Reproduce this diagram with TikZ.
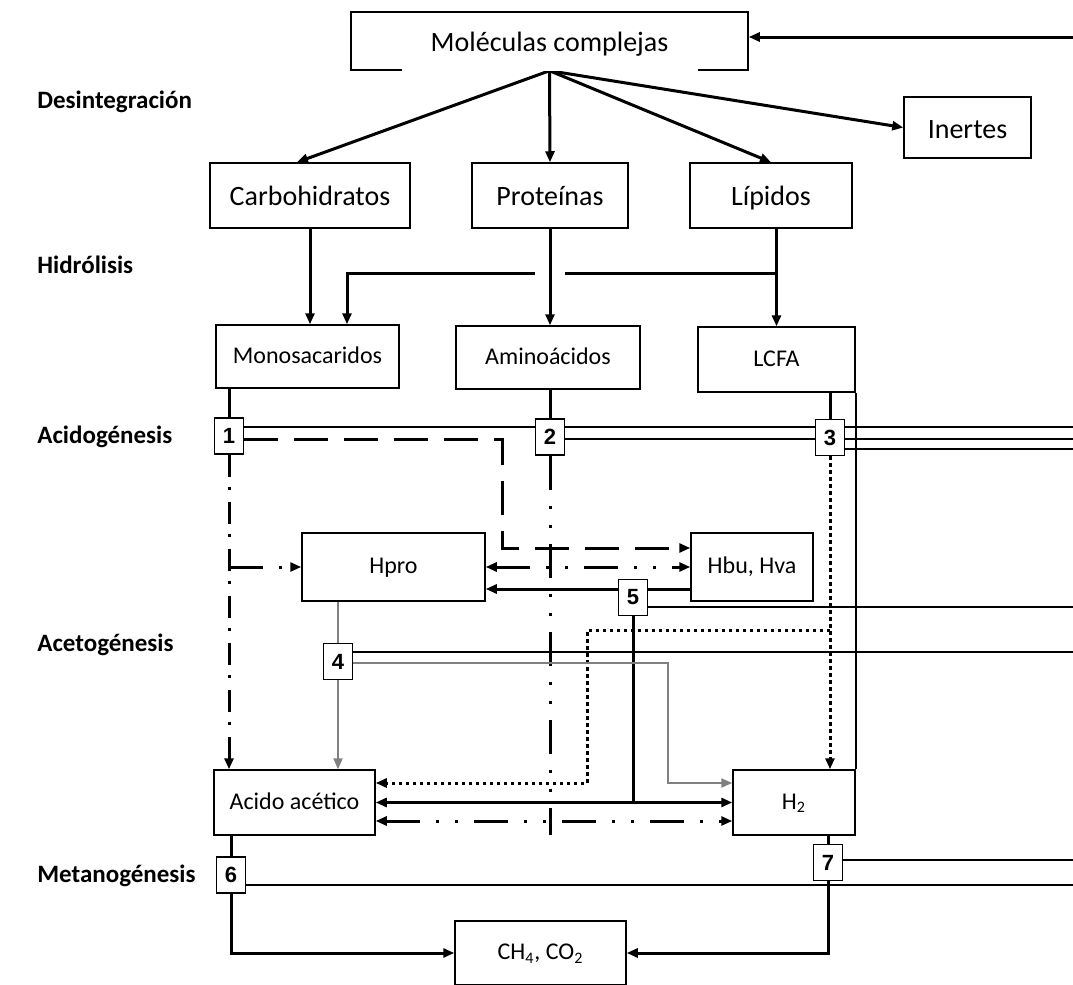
\documentclass[tikz,border=0pt]{standalone}
\usepackage{fontspec}
\setmainfont{Carlito}
\newfontfamily\numfont{Liberation Sans}
\usetikzlibrary{arrows.meta,calc,backgrounds}
\pgfdeclarelayer{paper}
\pgfsetlayers{paper,background,main}
\tikzset{
  box/.style={draw, line width=0.75pt, fill=white, inner sep=0pt, align=center},
  bigtxt/.style={font=\fontsize{14}{16}\selectfont, text height=1.15em, text depth=0.1em},
  smalltxt/.style={font=\fontsize{12}{14}\selectfont, text height=0.75em, text depth=0.1em},
  numbox/.style={draw, line width=0.75pt, fill=white, minimum width=14.5pt, minimum height=18pt, inner sep=0pt, font=\numfont\bfseries\fontsize{11}{11}\selectfont},
  stage/.style={anchor=west, inner sep=0pt, font=\bfseries\fontsize{12.5}{14}\selectfont},
  thickln/.style={line width=1.5pt},
  thinln/.style={line width=0.9pt},
  arr/.style={-{Triangle[length=5.5pt,width=4.5pt]}},
  darr/.style={{Triangle[length=5.5pt,width=4.5pt]}-{Triangle[length=5.5pt,width=4.5pt]}},
  longdash/.style={line width=1.5pt, dash pattern=on 17pt off 8pt},
  dashdotA/.style={line width=1.5pt, dash pattern=on 11pt off 5pt on 1.5pt off 6pt},
  dashdotdot/.style={line width=1.5pt, dash pattern=on 17pt off 8pt on 1.5pt off 8pt on 1.5pt off 8pt},
  dottedln/.style={line width=1.5pt, dash pattern=on 1.75pt off 1.75pt},
  grayln/.style={line width=1pt, draw=gray},
}
\begin{document}
\begin{tikzpicture}[x=0.5pt,y=-0.5pt]
\begin{pgfonlayer}{paper}
\fill[white] (0,0) rectangle (1073,985);
\end{pgfonlayer}
\useasboundingbox (0,0) rectangle (1073,985);

% stage labels
\node[stage] (s1) at (37,102) {Desintegración};
\node[stage] (s2) at (37,265) {Hidrólisis};
\node[stage] (s3) at (37,437) {Acidogénesis};
\node[stage] (s4) at (37,645) {Acetogénesis};
\node[stage] (s5) at (37,876) {Metanogénesis};

% boxes
\node[box,bigtxt,minimum width=198.5pt,minimum height=29pt] (mol) at (549.5,41) {Moléculas complejas};
\node[box,bigtxt,minimum width=63.5pt,minimum height=30.5pt] (inertes) at (967.5,127.5) {Inertes};
\node[box,bigtxt,minimum width=100pt,minimum height=32.5pt] (carb) at (310,195.5) {Carbohidratos};
\node[box,bigtxt,minimum width=78pt,minimum height=32.5pt] (prot) at (550,195.5) {Proteínas};
\node[box,bigtxt,minimum width=81pt,minimum height=32.5pt] (lip) at (771,195.5) {Lípidos};
\node[box,smalltxt,minimum width=91.5pt,minimum height=31.5pt] (mono) at (307.5,356.5) {Monosacaridos};
\node[box,smalltxt,minimum width=92pt,minimum height=31.5pt] (amino) at (548,357.5) {Aminoácidos};
\node[box,smalltxt,minimum width=78.5pt,minimum height=32.5pt] (lcfa) at (776.5,359.5) {LCFA};
\node[box,smalltxt,minimum width=91.5pt,minimum height=34pt] (hpro) at (393.5,567) {Hpro};
\node[box,smalltxt,minimum width=61pt,minimum height=34pt] (hbu) at (752,567) {Hbu, Hva};
\node[box,smalltxt,minimum width=80.5pt,minimum height=32.5pt] (acido) at (294.5,802.5) {Acido acético};
\node[box,smalltxt,minimum width=61pt,minimum height=32.5pt] (h2) at (794,802.5) {H\textsubscript{2}};
\node[box,smalltxt,minimum width=85.5pt,minimum height=32pt] (ch4) at (540.5,953) {CH\textsubscript{4}, CO\textsubscript{2}};

% number boxes
\node[numbox] (n1) at (229,436) {1};
\node[numbox] (n2) at (550,437) {2};
\node[numbox] (n3) at (830,437.5) {3};
\node[numbox] (n5) at (633,597.5) {5};
\node[numbox] (n4) at (338,661.5) {4};
\node[numbox] (n6) at (231,875) {6};
\node[numbox] (n7) at (828,862.5) {7};

% gap in bottom edge of the top box
\draw[white,line width=1.2pt] (402,70) -- (698,70);

\begin{scope}[on background layer]
% disintegration
\coordinate (rin) at (1073,37);
\draw[thickln,arr] (rin) -- (rin -| mol.east);
\draw[thickln,arr] (mol.south) -- ($(carb.north)+(-13,0)$);
\draw[thickln,arr] (mol.south) -- (prot.north);
\draw[thickln,arr] (mol.south) -- (lip.north);
\draw[thickln,arr] (mol.south) -- (inertes.west);
% hydrolysis
\draw[thickln,arr] (carb.south) -- (carb.south |- mono.north);
\draw[thickln,arr] (prot.south) -- (prot.south |- amino.north);
\draw[thickln,arr] (lcfa.north |- lip.south) -- (lcfa.north);
\coordinate (hj) at (777,273);
\coordinate (hg1) at (565,273);
\coordinate (hg2) at (535,273);
\coordinate (hb) at (347,273);
\draw[thickln] (hj) -- (hg1);
\draw[thickln,arr] (hg2) -- (hb) -- (hb |- mono.north);
% acidogenesis
\draw[thickln] (n1.north |- mono.south) -- (n1.north);
\draw[thickln] (n2.north |- amino.south) -- (n2.north);
\draw[thickln] (n3.north |- lcfa.south) -- (n3.north);
\coordinate (eA) at (1073,427);
\coordinate (eB) at (1073,439);
\coordinate (eC) at (1073,449);
\draw[thinln] (n1.east |- eA) -- (eA);
\draw[thinln] (n2.east |- eB) -- (eB);
\draw[thinln] (n3.east |- eC) -- (eC);
\coordinate (d1) at (502,439);
\coordinate (d2) at (502,548);
\draw[longdash,arr] (n1.east |- d1) -- (d1) -- (d2) -- (d2 -| hbu.west);
\draw[dashdotA,arr] (n1.south) -- (n1.south |- acido.north);
\draw[dashdotdot,arr] (n1.south |- hpro.west) -- (hpro.west);
\coordinate (v2) at (550,835);
\draw[dashdotdot] (n2.south) -- (v2);
% acetogenesis
\draw[dashdotdot,darr] (hpro.east) -- (hbu.west);
\draw[thickln,arr] ($(hbu.west)+(0,22)$) -- ($(hpro.east)+(0,22)$);
\coordinate (e5) at (1073,607);
\draw[thinln] (n5.east |- e5) -- (e5);
\draw[thickln] (n5.south) -- (n5.south |- acido.east);
\draw[dottedln,arr] (n3.south) -- (n3.south |- h2.north);
\coordinate (p1) at (587,630);
\coordinate (p2) at (587,783);
\draw[dottedln,arr] (n3.south |- p1) -- (p1) -- (p2) -- (p2 -| acido.east);
\draw[grayln] (n4.north |- hpro.south) -- (n4.north);
\draw[grayln,arr] (n4.south) -- (n4.south |- acido.north);
\coordinate (e4) at (1073,652);
\draw[thinln] (n4.east |- e4) -- (e4);
\coordinate (g1) at (668,663);
\coordinate (g2) at (668,783);
\draw[grayln,arr] (n4.east |- g1) -- (g1) -- (g2) -- (g2 -| h2.west);
\draw[line width=0.75pt] (lcfa.south east) -- (h2.north east);
\draw[thickln,darr] (acido.east) -- (h2.west);
\draw[dashdotdot,darr] ($(acido.east)+(0,18.5)$) -- ($(h2.west)+(0,18.5)$);
% methanogenesis
\draw[thickln] (n6.north |- acido.south) -- (n6.north);
\coordinate (e6) at (1073,885);
\draw[thinln] (n6.east |- e6) -- (e6);
\draw[thickln,arr] (n6.south) |- (ch4.west);
\draw[thickln] (n7.north |- h2.south) -- (n7.north);
\coordinate (e7) at (1073,860);
\draw[thinln] (n7.east |- e7) -- (e7);
\draw[thickln,arr] (n7.south) |- (ch4.east);
\end{scope}
\end{tikzpicture}
\end{document}
